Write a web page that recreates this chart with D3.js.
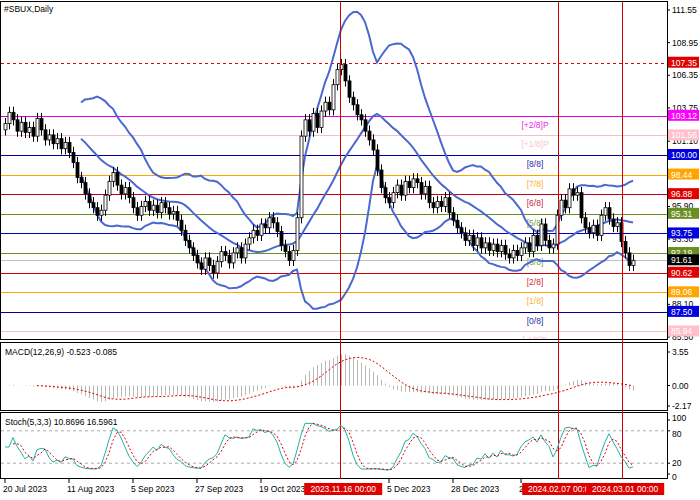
<!DOCTYPE html><html><head><meta charset="utf-8"><script src="https://cdn.jsdelivr.net/npm/d3@7"></script>
<style>body{margin:0;background:#fff}text{font-family:"Liberation Sans",Arial,sans-serif;font-size:8.5px}</style></head><body><svg id="c" width="700" height="500"></svg><script>
const closes=[102.5,103.4,102.8,101.9,102.6,101.8,102.2,101.5,102.9,
102.0,101.2,101.6,100.9,101.3,100.5,101.0,100.2,
99.4,98.2,97.8,96.9,96.2,95.8,95.2,95.6,
96.8,97.9,98.6,97.6,96.9,97.4,96.6,
95.8,95.2,95.9,96.3,95.6,96.0,95.4,96.2,95.8,95.3,95.5,
94.8,94.0,93.2,92.6,92.0,91.4,90.9,91.8,91.2,90.6,
91.5,92.3,92.0,91.4,92.2,92.6,91.8,92.9,
93.4,94.0,93.6,94.5,94.2,95.0,94.6,93.9,92.8,
92.3,91.6,92.4,95.0,
101.5,102.8,101.9,103.3,102.2,103.5,104.2,103.6,105.6,106.8,
107.2,
105.9,104.6,104.0,103.2,102.8,101.9,101.2,100.4,
98.8,97.4,96.6,96.2,
97.0,97.6,96.8,97.9,97.4,98.1,97.8,96.9,97.5,96.2,
95.8,96.3,95.9,96.6,95.4,94.8,94.2,93.8,
93.2,93.6,92.8,93.4,92.6,93.0,92.4,92.9,92.3,92.8,92.1,91.8,92.4,92.0,92.6,
93.0,92.3,93.6,92.8,94.5,93.2,92.6,92.9,
95.2,96.4,95.8,97.3,96.8,97.0,
95.0,94.2,93.8,94.4,93.6,95.2,95.8,94.9,
94.3,94.6,93.1,92.2,91.2,91.61];
const firstOpen=102.0, wick=0.45;
const priceTicks=[111.55,108.95,106.35,103.75,101.10,98.50,95.90,93.30,90.70,88.10,85.50];
const levels=[
 {v:107.35,c:"#e00000",lab:"",dash:true,box:"#e00000"},
 {v:103.12,c:"#e000e0",lab:"[+2/8]P",box:"#ff00ff"},
 {v:101.56,c:"#f4c0c8",lab:"[+1/8]P",box:"#ffc0cb"},
 {v:100.00,c:"#0000a0",lab:"[8/8]",box:"#0000e0"},
 {v:98.44,c:"#ffa500",lab:"[7/8]",box:"#ffa500"},
 {v:96.88,c:"#c00020",lab:"[6/8]",box:"#e00000"},
 {v:95.31,c:"#6b8e23",lab:"[5/8]",box:"#6b8e23"},
 {v:93.75,c:"#0000c0",lab:"",box:"#0000e0"},
 {v:92.19,c:"#6b8e23",lab:"[3/8]",box:"#6b8e23"},
 {v:91.61,c:"#c0c0c0",lab:"",box:"#000"},
 {v:90.62,c:"#d00000",lab:"[2/8]",box:"#e00000"},
 {v:89.06,c:"#ffa500",lab:"[1/8]",box:"#ffa500"},
 {v:87.50,c:"#000090",lab:"[0/8]",box:"#0000e0"},
 {v:85.94,c:"#f4c0c8",lab:"[-1/8]P",box:"#ffc0cb"}];
const dateLabels=[[0,"20 Jul 2023"],[16,"11 Aug 2023"],[32,"5 Sep 2023"],[48,"27 Sep 2023"],[64,"19 Oct 2023"],[96,"5 Dec 2023"],[112,"28 Dec 2023"],[129,"2"]];
const vLines=[[83.8,"2023.11.16 00:00"],[138.3,"2024.02.07 00:00"],[154.3,"2024.03.01 00:00"]];

const svg=d3.select("#c");const N=closes.length;
const x=d3.scaleLinear().domain([0,N-1]).range([5,633]);
const y=d3.scaleLinear().domain([85.5,111.55]).range([337,10]);
const R=667;
const bars=closes.map((c,i)=>{const o=i?closes[i-1]:firstOpen;return {o,c,h:Math.max(o,c)+wick,l:Math.min(o,c)-wick};});
function sma(a,n){return a.map((_,i)=>i<n-1?null:d3.mean(a.slice(i-n+1,i+1)));}
function ema(a,n){const k=2/(n+1);let e=a[0];return a.map(v=>e=v*k+e*(1-k));}
const mid=sma(closes,20);
const sd=closes.map((_,i)=>i<19?null:d3.deviation(closes.slice(i-19,i+1))*Math.sqrt(19/20));
const up=mid.map((m,i)=>m==null?null:m+2*sd[i]),dn=mid.map((m,i)=>m==null?null:m-2*sd[i]);
const e26=ema(closes,26);const macd=ema(closes,12).map((v,i)=>v-e26[i]);
const sig=sma(macd,9);
const rawK=bars.map((b,i)=>{const s=bars.slice(Math.max(0,i-4),i+1);const hh=d3.max(s,d=>d.h),ll=d3.min(s,d=>d.l);return 100*(b.c-ll)/(hh-ll);});
const K=sma(rawK,3).map(v=>v==null?50:v);const D=sma(K,3);
svg.append("rect").attr("x",0.5).attr("y",1.5).attr("width",R).attr("height",338).attr("fill","none").attr("stroke","#000");
svg.append("rect").attr("x",0.5).attr("y",342.5).attr("width",R).attr("height",68).attr("fill","none").attr("stroke","#000");
svg.append("rect").attr("x",0.5).attr("y",412.5).attr("width",R).attr("height",66).attr("fill","none").attr("stroke","#000");
const main=svg.append("g");
main.append("clipPath").attr("id","cl").append("rect").attr("x",1).attr("y",2).attr("width",R-1).attr("height",337);
const g=main.append("g").attr("clip-path","url(#cl)");
levels.forEach(L=>{g.append("line").attr("x1",1).attr("x2",R).attr("y1",Math.round(y(L.v))+.5).attr("y2",Math.round(y(L.v))+.5).attr("stroke",L.c).attr("stroke-dasharray",L.dash?"3,3":null);
 if(L.lab)g.append("text").attr("x",535).attr("y",y(L.v)+12).attr("text-anchor","middle").attr("fill",L.c).attr("opacity",.85).text(L.lab);});
vLines.forEach(v=>svg.append("line").attr("x1",Math.round(x(v[0]))+.5).attr("x2",Math.round(x(v[0]))+.5).attr("y1",2).attr("y2",479).attr("stroke","#d00000"));
[up,mid,dn].forEach(a=>g.append("path").datum(a).attr("d",d3.line().defined(d=>d!=null).x((d,i)=>x(i)).y(d=>y(d))).attr("fill","none").attr("stroke","#4a68d0").attr("stroke-width",2));
bars.forEach((b,i)=>{const cx=Math.round(x(i))+.5;g.append("line").attr("x1",cx).attr("x2",cx).attr("y1",y(b.h)).attr("y2",y(b.l)).attr("stroke","#000");
 const t=y(Math.max(b.o,b.c)),h=Math.max(1,y(Math.min(b.o,b.c))-t);
 g.append("rect").attr("x",cx-1.5).attr("y",t).attr("width",3).attr("height",h).attr("fill",b.c>=b.o?"#fff":"#000").attr("stroke","#000").attr("stroke-width",.8);});
svg.append("text").attr("x",4).attr("y",12).text("#SBUX,Daily");
priceTicks.forEach(p=>{svg.append("line").attr("x1",R).attr("x2",R+3).attr("y1",y(p)).attr("y2",y(p)).attr("stroke","#000");svg.append("text").attr("x",R+5).attr("y",y(p)+3).text(p.toFixed(2));});
levels.forEach(L=>{svg.append("rect").attr("x",R+1).attr("y",y(L.v)-6).attr("width",31).attr("height",11).attr("fill",L.box);
 svg.append("text").attr("x",R+4).attr("y",y(L.v)+3).attr("fill","#fff").text(L.v.toFixed(2));});
const ym=d3.scaleLinear().domain([-2.17,3.55]).range([406,352]);
macd.forEach((v,i)=>svg.append("line").attr("x1",Math.round(x(i))+.5).attr("x2",Math.round(x(i))+.5).attr("y1",ym(0)).attr("y2",ym(v)).attr("stroke","#b8b8b8"));
svg.append("path").datum(sig).attr("d",d3.line().defined(d=>d!=null).x((d,i)=>x(i)).y(d=>ym(d))).attr("fill","none").attr("stroke","#e00000").attr("stroke-dasharray","2,2");
[[3.55,"3.55"],[0,"0.00"],[-2.17,"-2.17"]].forEach(t=>{svg.append("line").attr("x1",R).attr("x2",R+3).attr("y1",ym(t[0])).attr("y2",ym(t[0])).attr("stroke","#000");svg.append("text").attr("x",R+5).attr("y",ym(t[0])+3).text(t[1]);});
svg.append("text").attr("x",5).attr("y",355).text("MACD(12,26,9) -0.523 -0.085");
const ys=d3.scaleLinear().domain([0,100]).range([474,420]);
[80,20].forEach(v=>svg.append("line").attr("x1",1).attr("x2",R).attr("y1",ys(v)).attr("y2",ys(v)).attr("stroke","#aaa").attr("stroke-dasharray","3,3"));
svg.append("path").datum(K).attr("d",d3.line().x((d,i)=>x(i)).y(d=>ys(d))).attr("fill","none").attr("stroke","#20b2aa");
svg.append("path").datum(D).attr("d",d3.line().defined(d=>d!=null).x((d,i)=>x(i)).y(d=>ys(d))).attr("fill","none").attr("stroke","#e00000").attr("stroke-dasharray","2,2");
[[100,"100",-2],[80,"80",3],[20,"20",0],[0,"0",3]].forEach(t=>{svg.append("line").attr("x1",R).attr("x2",R+3).attr("y1",ys(t[0])).attr("y2",ys(t[0])).attr("stroke","#000");svg.append("text").attr("x",R+5).attr("y",ys(t[0])+3+t[2]).text(t[1]);});
svg.append("text").attr("x",5).attr("y",425).text("Stoch(5,3,3) 10.8696 16.5961");
dateLabels.forEach(d=>{svg.append("line").attr("x1",x(d[0])).attr("x2",x(d[0])).attr("y1",479).attr("y2",483).attr("stroke","#000");svg.append("text").attr("x",x(d[0])-2).attr("y",492).text(d[1]);});
vLines.forEach(v=>{const cx=x(v[0]);svg.append("rect").attr("x",cx-36).attr("y",483).attr("width",78).attr("height",12).attr("fill","#e00000");svg.append("text").attr("x",cx+3).attr("y",492).attr("text-anchor","middle").attr("fill","#fff").text(v[1]);});
</script></body></html>
